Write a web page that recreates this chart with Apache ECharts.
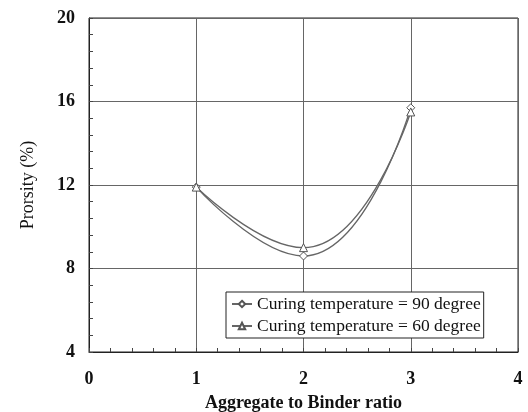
<!DOCTYPE html>
<html>
<head>
<meta charset="utf-8">
<script src="https://cdn.jsdelivr.net/npm/echarts@6/dist/echarts.min.js"></script>
<style>
html, body { margin: 0; padding: 0; background: #fff; }
#chart { width: 528px; height: 412px; }
</style>
</head>
<body>
<div id="chart"></div>
<script>
// Aggregate to binder ratio vs porosity
var ratios = [1, 2, 3];
var temp90 = [11.9, 8.6, 15.7];
var temp60 = [11.9, 9.0, 15.5];
var seriesNames = ['Curing temperature = 90 degree', 'Curing temperature = 60 degree'];

function pairs(ys) {
    return ratios.map(function(x, i) { return [x, ys[i]]; });
}

var font = 'Liberation Serif, Times New Roman, serif';
var chart = echarts.init(document.getElementById('chart'));
var option = {
    backgroundColor: '#fff',
    animation: false,
    textStyle: { fontFamily: font },
    grid: {
        left: 89, right: 10, top: 18, bottom: 60,
        outerBoundsMode: 'none', containLabel: false,
        show: true, borderColor: '#222', borderWidth: 1
    },
    legend: {
        orient: 'vertical',
        left: 226,
        top: 292,
        itemGap: 4,
        itemWidth: 20,
        itemHeight: 8,
        padding: [3, 3, 3, 5],
        borderColor: '#222',
        borderWidth: 1,
        backgroundColor: '#fff',
        textStyle: { fontFamily: font, fontSize: 17.5, color: '#111' },
        data: seriesNames
    },
    xAxis: {
        type: 'value',
        min: 0, max: 4, interval: 1,
        name: 'Aggregate to Binder ratio',
        nameLocation: 'middle',
        nameGap: 42,
        nameTextStyle: { fontFamily: font, fontSize: 18, fontWeight: 'bold', color: '#111' },
        axisLine: { lineStyle: { color: '#222' } },
        axisTick: { inside: true, length: 4, lineStyle: { color: '#444' } },
        minorTick: { show: true, splitNumber: 5, length: 4, lineStyle: { color: '#444' } },
        axisLabel: { fontFamily: font, fontSize: 18, fontWeight: 'bold', color: '#111', margin: 18 },
        splitLine: { show: true, lineStyle: { color: '#666' } }
    },
    yAxis: {
        type: 'value',
        min: 4, max: 20, interval: 4,
        name: 'Prorsity (%)',
        nameLocation: 'middle',
        nameGap: 52,
        nameTextStyle: { fontFamily: font, fontSize: 18, color: '#111' },
        axisLine: { show: true, lineStyle: { color: '#222' } },
        axisTick: { show: true, inside: true, length: 4, lineStyle: { color: '#444' } },
        minorTick: { show: true, splitNumber: 5, length: 4, lineStyle: { color: '#444' } },
        axisLabel: { fontFamily: font, fontSize: 18, fontWeight: 'bold', color: '#111', margin: 14 },
        splitLine: { show: true, lineStyle: { color: '#666' } }
    },
    series: [
        {
            name: seriesNames[0],
            type: 'line',
            smooth: 0.5,
            data: pairs(temp90),
            symbol: 'diamond',
            symbolSize: 8,
            itemStyle: { color: '#fff', borderColor: '#555', borderWidth: 1 },
            lineStyle: { color: '#666', width: 1.3 }
        },
        {
            name: seriesNames[1],
            type: 'line',
            smooth: 0.5,
            data: pairs(temp60),
            symbol: 'triangle',
            symbolSize: 8,
            itemStyle: { color: '#fff', borderColor: '#555', borderWidth: 1 },
            lineStyle: { color: '#666', width: 1.3 }
        }
    ]
};
chart.setOption(option);
</script>
</body>
</html>
